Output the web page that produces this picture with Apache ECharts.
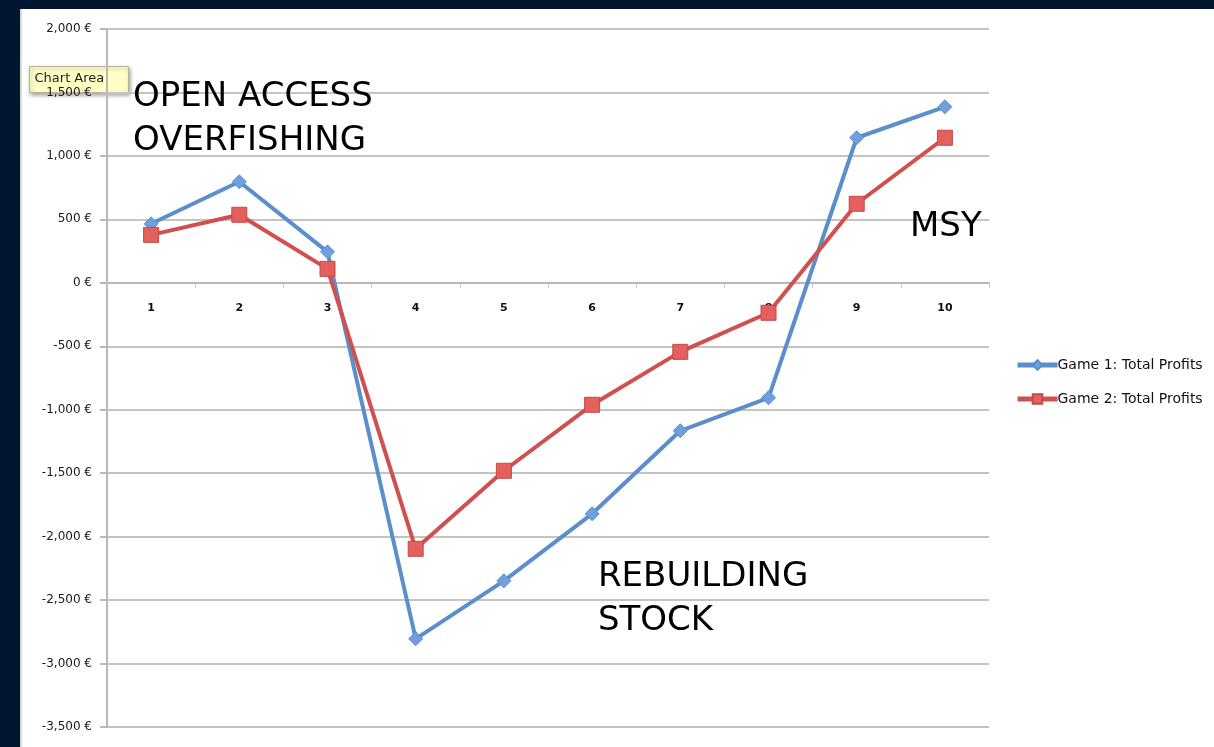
<!DOCTYPE html>
<html>
<head>
<meta charset="utf-8">
<script src="https://cdn.jsdelivr.net/npm/echarts@6/dist/echarts.min.js"></script>
<style>
html,body{margin:0;padding:0;background:#011631;width:1214px;height:747px;overflow:hidden;}
#chart{position:absolute;left:20px;top:9px;width:1194px;height:738px;background:#ffffff;border-left:2px solid #d8d8d8;box-sizing:border-box;}
</style>
</head>
<body>
<div id="chart"></div>
<script>
const categories = ['1','2','3','4','5','6','7','8','9','10'];
const game1 = [465, 796, 244, -2805, -2348, -1820, -1166, -906, 1143, 1387];
const game2 = [378, 536, 110, -2096, -1481, -961, -544, -236, 623, 1143];
const seriesNames = ['Game 1: Total Profits', 'Game 2: Total Profits'];
const yMin = -3500, yMax = 2000, yStep = 500;

function fmtEuro(v){
  const s = Math.abs(v).toString().replace(/\B(?=(\d{3})+(?!\d))/g, ',');
  return (v < 0 ? '-' : '') + s + ' €';
}

const gridTop = 20, gridBottom = 20, chartH = 738;
const gridH = chartH - gridTop - gridBottom;
const zeroOffset = -gridH * (0 - yMin) / (yMax - yMin);

const chart = echarts.init(document.getElementById('chart'), null, {renderer:'canvas'});
chart.setOption({
  animation:false,
  backgroundColor:'#ffffff',
  textStyle:{fontFamily:'DejaVu Sans, sans-serif'},
  grid:{left:85, right:225, top:gridTop, bottom:gridBottom, containLabel:false},
  legend:{
    orient:'vertical', left:988, top:344, itemGap:20, itemWidth:40, itemHeight:12,
    lineStyle:{width:5},
    textStyle:{fontSize:14, color:'#111', fontFamily:'DejaVu Sans, sans-serif', padding:[0,0,0,-5]},
    data:seriesNames
  },
  xAxis:{
    type:'category', data:categories, boundaryGap:true, position:'bottom', offset:zeroOffset,
    axisLine:{onZero:false, lineStyle:{color:'#b8b8b8', width:2}},
    axisTick:{show:true, length:5, lineStyle:{color:'#c8c8c8'}},
    axisLabel:{fontSize:11, color:'#111', fontWeight:'bold', margin:20, fontFamily:'DejaVu Sans, sans-serif'},
    splitLine:{show:false}
  },
  yAxis:{
    type:'value', min:yMin, max:yMax, interval:yStep,
    axisLine:{show:true, lineStyle:{color:'#b8b8b8', width:2}},
    axisTick:{show:true, length:7, lineStyle:{color:'#b8b8b8', width:2}},
    axisLabel:{formatter:fmtEuro, fontSize:12, color:'#1a1a1a', margin:15, fontFamily:'DejaVu Sans, sans-serif'},
    splitLine:{show:true, lineStyle:{color:'#c4c4c4', width:2}}
  },
  series:[
    {
      name:seriesNames[0], type:'line', data:game1,
      symbol:'diamond', symbolSize:14,
      lineStyle:{color:'#5b8fcb', width:4},
      itemStyle:{color:'#6fa0dc', borderColor:'#5b8fcb', borderWidth:1},
      z:3
    },
    {
      name:seriesNames[1], type:'line', data:game2,
      symbol:'rect', symbolSize:15,
      lineStyle:{color:'#d0504d', width:4},
      itemStyle:{color:'#e4605c', borderColor:'#c44a47', borderWidth:1},
      z:4
    }
  ],
  graphic:[
    {type:'text', left:111, top:66, style:{text:'OPEN ACCESS\nOVERFISHING', fontSize:34, lineHeight:44, fill:'#000', fontFamily:'DejaVu Sans, sans-serif'}, z:10},
    {type:'text', left:576, top:546, style:{text:'REBUILDING\nSTOCK', fontSize:34, lineHeight:44, fill:'#000', fontFamily:'DejaVu Sans, sans-serif'}, z:10},
    {type:'text', left:888, top:201, style:{text:'MSY', fontSize:34, fill:'#000', fontFamily:'DejaVu Sans, sans-serif'}, z:10},
    {type:'group', left:7, top:57, z:20, children:[
      {type:'rect', shape:{x:0,y:0,width:99,height:26}, style:{fill:'#ffffc6', stroke:'#b5b59a', lineWidth:1, shadowBlur:4, shadowColor:'rgba(0,0,0,0.35)', shadowOffsetX:1, shadowOffsetY:2}},
      {type:'text', x:5, y:6, style:{text:'Chart Area', fontSize:13, fill:'#222', fontFamily:'DejaVu Sans, sans-serif'}}
    ]}
  ]
});
</script>
</body>
</html>
